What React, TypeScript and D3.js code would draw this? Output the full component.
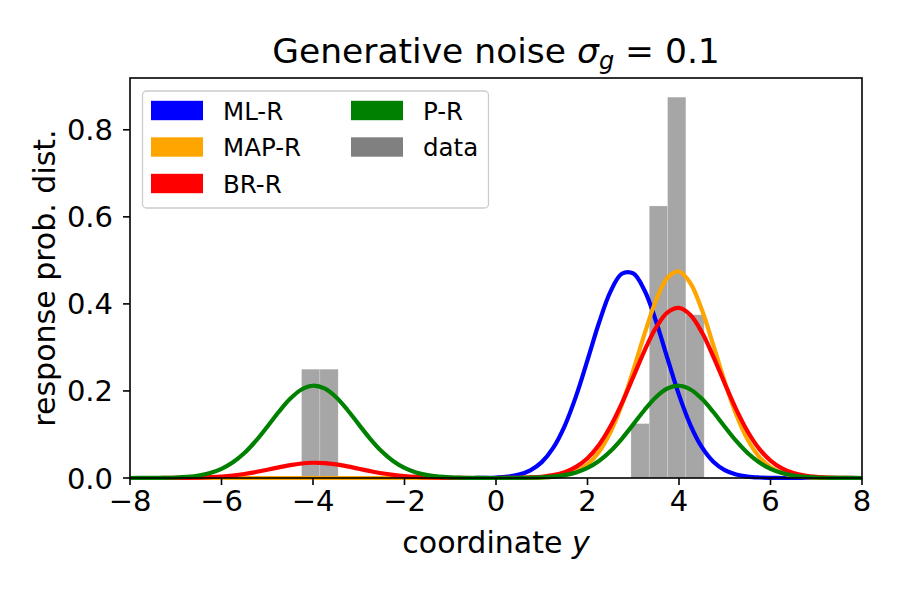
import React from "react";
import * as d3 from "d3";

// sample grid along the response coordinate y
const coordY = [
  -8, -7.75, -7.5, -7.25, -7, -6.75, -6.5, -6.25,
  -6, -5.75, -5.5, -5.25, -5, -4.75, -4.5, -4.25,
  -4, -3.75, -3.5, -3.25, -3, -2.75, -2.5, -2.25,
  -2, -1.75, -1.5, -1.25, -1, -0.75, -0.5, -0.25,
  0, 0.25, 0.5, 0.75, 1, 1.25, 1.5, 1.75,
  2, 2.25, 2.5, 2.75, 3, 3.25, 3.5, 3.75,
  4, 4.25, 4.5, 4.75, 5, 5.25, 5.5, 5.75,
  6, 6.25, 6.5, 6.75, 7, 7.25, 7.5, 7.75,
  8,
];

const mlR = [
  0, 0, 0, 0, 0, 0, 0, 0,
  0, 0, 0, 0, 0, 0, 0, 0,
  0, 0, 0, 0, 0, 0, 0, 0,
  0, 0, 0, 0, 0, 0, 0, 0.0004,
  0.0012, 0.0031, 0.0078, 0.0176, 0.0365, 0.0691, 0.1193, 0.188,
  0.2708, 0.3561, 0.4277, 0.4692, 0.4701, 0.4301, 0.3593, 0.2742,
  0.1911, 0.1216, 0.0707, 0.0375, 0.0182, 0.0081, 0.0033, 0.0012,
  0.0004, 0, 0, 0, 0, 0, 0, 0,
  0,
];

const mapR = [
  0, 0, 0, 0, 0, 0, 0, 0,
  0, 0, 0, 0, 0, 0, 0, 0,
  0, 0, 0, 0, 0, 0, 0, 0,
  0, 0, 0, 0, 0, 0, 0, 0,
  0, 0, 0, 0.0003, 0.001, 0.0026, 0.0065, 0.0149,
  0.0312, 0.0598, 0.1049, 0.1683, 0.2472, 0.3323, 0.4089, 0.4604,
  0.4745, 0.4475, 0.3863, 0.3052, 0.2207, 0.1461, 0.0885, 0.0491,
  0.0249, 0.0116, 0.0049, 0.0019, 0.0007, 0.0002, 0, 0,
  0,
];

const brR = [
  0, 0, 0, 0.0001, 0.0002, 0.0005, 0.001, 0.0019,
  0.0034, 0.0058, 0.0092, 0.0137, 0.019, 0.0245, 0.0296, 0.0333,
  0.035, 0.0342, 0.0313, 0.0267, 0.0212, 0.0158, 0.0109, 0.0071,
  0.0043, 0.0024, 0.0013, 0.0006, 0.0003, 0.0001, 0, 0,
  0, 0.0002, 0.0005, 0.0013, 0.0029, 0.0065, 0.0133, 0.0255,
  0.0455, 0.0759, 0.1181, 0.1714, 0.2322, 0.2934, 0.3459, 0.3806,
  0.3908, 0.3744, 0.3347, 0.2791, 0.2172, 0.1577, 0.1069, 0.0676,
  0.0399, 0.0219, 0.0113, 0.0054, 0.0024, 0.001, 0.0004, 0.0001,
  0,
];

const pR = [
  0, 0.0001, 0.0002, 0.0005, 0.0012, 0.0028, 0.0058, 0.0115,
  0.0211, 0.036, 0.0573, 0.0851, 0.1177, 0.1516, 0.1819, 0.2034,
  0.212, 0.2057, 0.1861, 0.1568, 0.1231, 0.0901, 0.0614, 0.039,
  0.0231, 0.0127, 0.0065, 0.0031, 0.0014, 0.0006, 0.0002, 0.0001,
  0, 0.0001, 0.0002, 0.0006, 0.0014, 0.0031, 0.0065, 0.0127,
  0.0231, 0.039, 0.0614, 0.0901, 0.1231, 0.1568, 0.1861, 0.2057,
  0.212, 0.2034, 0.1819, 0.1516, 0.1177, 0.0851, 0.0573, 0.036,
  0.0211, 0.0115, 0.0058, 0.0028, 0.0012, 0.0005, 0.0002, 0.0001,
  0,
];

// histogram of the data (density), bin width 0.4
const binLeft = [-4.25, -3.85, 2.95, 3.35, 3.75, 4.15];
const binDensity = [0.25, 0.25, 0.125, 0.625, 0.875, 0.375];
const binWidth = 0.4;

const seriesNames = ["ML-R", "MAP-R", "BR-R", "P-R"];
const seriesValues = [mlR, mapR, brR, pR];
const seriesColors = ["#0000ff", "#ffa500", "#ff0000", "#008000"];

const xTicks = [-8, -6, -4, -2, 0, 2, 4, 6, 8];
const yTicks = [0, 0.2, 0.4, 0.6, 0.8];

const FONT = "DejaVu Sans, sans-serif";

const App = () => {
  const left = 130, right = 862, top = 78, bottom = 478;
  const x = d3.scaleLinear().domain([-8, 8]).range([left, right]);
  const y = d3.scaleLinear().domain([0, 0.919]).range([bottom, top]);

  const line = d3
    .line<number>()
    .x((_, i) => x(coordY[i]))
    .y((d) => y(d))
    .curve(d3.curveCatmullRom);

  const fmtX = d3.format("d");
  const fmtY = d3.format(".1f");

  // legend: two columns
  const legendItems = [
    { label: "ML-R", color: seriesColors[0] },
    { label: "MAP-R", color: seriesColors[1] },
    { label: "BR-R", color: seriesColors[2] },
    { label: "P-R", color: seriesColors[3] },
    { label: "data", color: "#808080" },
  ];
  const colX = [151, 351];
  const rowY = [110.5, 147, 183.5];

  return (
    <svg width={900} height={600} style={{ display: "block", margin: -8 }} fontFamily={FONT}>
      <rect width={900} height={600} fill="#fff" />

      {/* histogram */}
      {binLeft.map((b, i) => (
        <rect
          key={"b" + i}
          x={x(b)}
          y={y(binDensity[i])}
          width={x(b + binWidth) - x(b)}
          height={y(0) - y(binDensity[i])}
          fill="#808080"
          fillOpacity={0.7}
          stroke="#ffffff"
          strokeOpacity={0.35}
          strokeWidth={0.6}
        />
      ))}

      {/* curves */}
      {seriesValues.map((vals, i) => (
        <path
          key={seriesNames[i]}
          d={line(vals) || ""}
          fill="none"
          stroke={seriesColors[i]}
          strokeWidth={4.2}
          strokeLinejoin="round"
        />
      ))}

      {/* spines */}
      <rect x={left} y={top} width={right - left} height={bottom - top} fill="none" stroke="#000" strokeWidth={1.6} />

      {/* x axis */}
      {xTicks.map((t) => (
        <g key={"x" + t}>
          <line x1={x(t)} x2={x(t)} y1={bottom} y2={bottom + 7} stroke="#000" strokeWidth={1.6} />
          <text x={x(t)} y={511} textAnchor="middle" fontSize={29}>
            {fmtX(t)}
          </text>
        </g>
      ))}
      <text x={(left + right) / 2} y={553} textAnchor="middle" fontSize={30}>
        coordinate <tspan fontStyle="italic">y</tspan>
      </text>

      {/* y axis */}
      {yTicks.map((t) => (
        <g key={"y" + t}>
          <line x1={left - 7} x2={left} y1={y(t)} y2={y(t)} stroke="#000" strokeWidth={1.6} />
          <text x={113} y={y(t) + 10.5} textAnchor="end" fontSize={29}>
            {fmtY(t)}
          </text>
        </g>
      ))}
      <text
        transform={`translate(55,${(top + bottom) / 2}) rotate(-90)`}
        textAnchor="middle"
        fontSize={30}
      >
        response prob. dist.
      </text>

      {/* title */}
      <text x={(left + right) / 2} y={63} textAnchor="middle" fontSize={34.5}>
        Generative noise <tspan fontStyle="italic">σ</tspan>
        <tspan fontStyle="italic" fontSize={24} dy={6}>g</tspan>
        <tspan dy={-6}>{" = 0.1"}</tspan>
      </text>

      {/* legend */}
      <rect x={142.5} y={91} width={346} height={117} rx={4} fill="#fff" fillOpacity={0.8} stroke="#cccccc" strokeWidth={1.3} />
      {legendItems.map((it, i) => {
        const col = i < 3 ? 0 : 1;
        const row = i < 3 ? i : i - 3;
        return (
          <g key={it.label}>
            <rect x={colX[col]} y={rowY[row] - 9.7} width={52} height={19.4} fill={it.color} />
            <text x={colX[col] + 72} y={rowY[row] + 9} fontSize={24.5}>
              {it.label}
            </text>
          </g>
        );
      })}
    </svg>
  );
};

export default App;
